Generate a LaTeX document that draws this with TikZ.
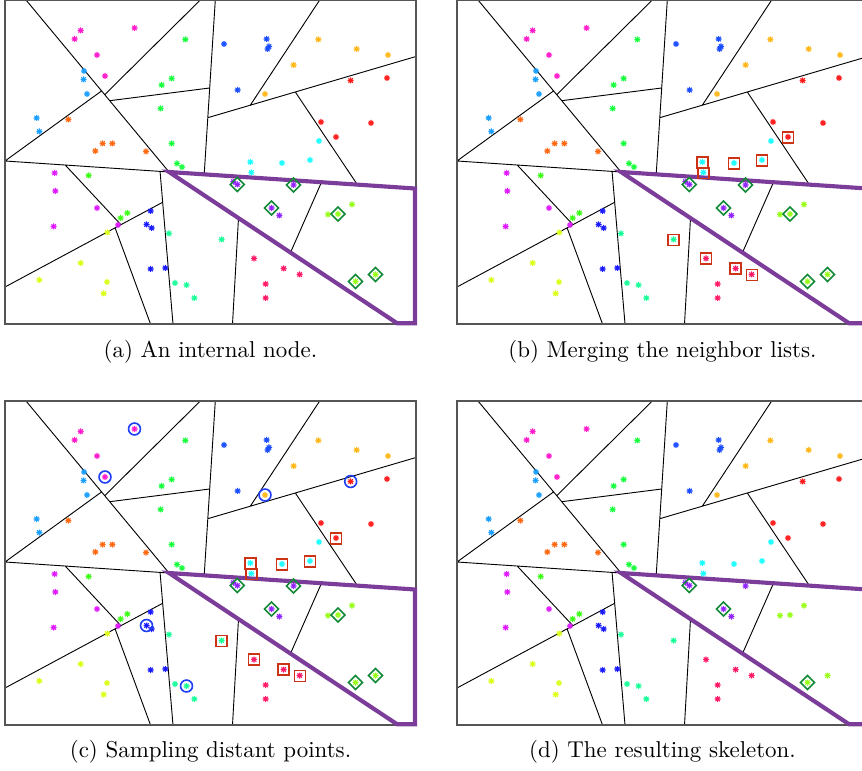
\documentclass[tikz,border=0pt]{standalone}
\usepackage{tikz}
\definecolor{skelpurple}{HTML}{7B3D99}
\definecolor{keepgreen}{HTML}{138A38}
\definecolor{mergered}{HTML}{CC3314}
\definecolor{sampleblue}{HTML}{1F3FF5}
\definecolor{framegray}{HTML}{555555}
\definecolor{cpink}{HTML}{FF1ACC}
\definecolor{csky}{HTML}{1A9FFF}
\definecolor{corange}{HTML}{FF6A14}
\definecolor{cgreena}{HTML}{1AFF40}
\definecolor{cbluea}{HTML}{1A4DFF}
\definecolor{cgold}{HTML}{FFB81A}
\definecolor{cred}{HTML}{FF1A1A}
\definecolor{ccyan}{HTML}{1AFFFF}
\definecolor{cviolet}{HTML}{9326FF}
\definecolor{clime}{HTML}{99FF1A}
\definecolor{ccrimson}{HTML}{FF1A66}
\definecolor{cspring}{HTML}{1AFF99}
\definecolor{cblueb}{HTML}{1A1AFF}
\definecolor{corchid}{HTML}{E01AFF}
\definecolor{cgreenb}{HTML}{40FF1A}
\definecolor{cyellow}{HTML}{DDFF1A}
\tikzset{
  panelframe/.style={draw=framegray,line width=0.5pt},
  cut/.style={draw=black,line width=0.4pt},
  skeleton/.style={draw=skelpurple,line width=1.8pt,line join=miter},
  ast/.pic={\draw[line width=0.45pt] (-3,0)--(3,0) (0,-3)--(0,3)
    (-2.2,-2.2)--(2.2,2.2) (-2.2,2.2)--(2.2,-2.2);},
  keepmark/.pic={\draw[keepgreen,line width=0.7pt] (-7,0)--(0,-7)--(7,0)--(0,7)--cycle;},
  mergemark/.pic={\draw[mergered,line width=0.7pt] (-5.5,-5.5) rectangle (5.5,5.5);},
  samplemark/.pic={\draw[sampleblue,line width=0.7pt] (0,0) circle[radius=2.6pt];}
}
\begin{document}
\begin{tikzpicture}[x=0.436pt,y=-0.436pt,
  caption/.style={font=\normalsize,inner sep=0pt}]
  \useasboundingbox (0,0) rectangle (862,771);
  \clip (0,0) rectangle (862,771);
  \foreach \px/\py in {0/0,452/0,0/401,452/401}{
    \begin{scope}[shift={(5+\px,\py)}]
      \draw[cut] (21,0)--(164,172) (195.3,0)--(99.7,94.7) (0,161)--(96.5,91)
        (104.7,100.7)--(204.7,88) (210.3,0)--(199.2,174.3) (314.7,0)--(245.3,105.2)
        (202.8,117.7)--(411,56.5) (290.3,92)--(352.3,184.6) (0,161)--(164,172)
        (60,164.8)--(115.7,224.5) (0,287)--(157.6,202.3) (110,227.6)--(145.5,324)
        (155,170.8)--(168,324) (233.5,218)--(227.5,324) (316.5,182.2)--(285.5,252.5);
      \draw[panelframe] (0,0) rectangle (411,324);
      \draw[skeleton] (164,172)--(410,188.5)--(410,323.2)--(392,323.2)--cycle;
      \foreach \x/\y/\c in {75.7/30.5/cpink,69.7/39/cpink,129.5/28/cpink,92/55/cpink,100/76/cpink,
        79/71/csky,78.5/79.5/csky,82/94/csky,31.7/118/csky,34.3/131.5/csky,
        63.3/119.5/corange,97.7/143.5/corange,107.3/143.5/corange,90.3/151/corange,141/151.5/corange,
        180.3/39.5/cgreena,166.7/78.5/cgreena,156.7/85/cgreena,155.7/108.5/cgreena,166.7/143.5/cgreena,172/163.5/cgreena,177/167/cgreena,
        219/44/cbluea,261.7/39/cbluea,264/46.5/cbluea,262.5/49/cbluea,232.7/90/cbluea,
        313.3/39.5/cgold,351.7/49/cgold,383/55/cgold,288.7/65/cgold,260/94/cgold,
        345.7/80.5/cred,382/78/cred,316/122/cred,366/123/cred,331/137/cred,
        314/141/ccyan,245.3/162/ccyan,246.3/172.5/ccyan,277/163/ccyan,305/160/ccyan,
        228.3/181.7/cviolet,232.3/184.5/cviolet,288.5/185/cviolet,266.5/208/cviolet,274.3/215.5/cviolet,
        323/214.5/clime,333/214/clime,347/204.5/clime,350.5/281.5/clime,370.5/274.5/clime,
        249/258.5/ccrimson,278.7/268.5/ccrimson,294.7/274.5/ccrimson,260.7/284/ccrimson,260.7/298/ccrimson,
        164/233.5/cspring,216.7/239.5/cspring,170/283/cspring,181.5/285/cspring,189.3/298/cspring,
        145.7/211/cblueb,141.5/224.5/cblueb,146.7/228/cblueb,145.7/269/cblueb,160.3/268/cblueb,
        49.7/173/corchid,50.3/191/corchid,92/208/corchid,48.7/226.5/corchid,113/225/corchid,
        83.7/175.5/cgreenb,122.3/213/cgreenb,115.7/218/cgreenb,
        102.3/232.5/cyellow,75.7/263/cyellow,34.3/280/cyellow,102/282/cyellow,98.7/293.5/cyellow}
        \pic[color=\c] at (\x,\y) {ast};
    \end{scope}
  }
  \foreach \px/\py in {0/0,452/0,0/401}{
    \begin{scope}[shift={(5+\px,\py)}]
      \foreach \x/\y in {232.3/184.5,288.5/185,266.5/208,333/214,350.5/281.5,370.5/274.5}
        \pic at (\x,\y) {keepmark};
    \end{scope}
  }
  \foreach \px/\py in {452/0,0/401}{
    \begin{scope}[shift={(5+\px,\py)}]
      \foreach \x/\y in {245.3/162.5,246.3/173,277/163.5,305/160.5,331/137.5,
          216.5/240,249/258.5,278.5/268.5,295/275}
        \pic at (\x,\y) {mergemark};
    \end{scope}
  }
  \begin{scope}[shift={(5,401)}]
    \foreach \x/\y in {129.5/28,100/76,260/94,345.7/80.5,141.5/224.5,181.5/285}
      \pic at (\x,\y) {samplemark};
  \end{scope}
  \begin{scope}[shift={(457,401)}]
    \foreach \x/\y in {232.3/184.5,266.5/208,350.5/281.5}
      \pic at (\x,\y) {keepmark};
  \end{scope}
  \node[caption] (capa) at (210.5,352) {(a) An internal node.};
  \node[caption] (capb) at (662.5,352) {(b) Merging the neighbor lists.};
  \node[caption] (capc) at (210.5,752) {(c) Sampling distant points.};
  \node[caption] (capd) at (662.5,752) {(d) The resulting skeleton.};
\end{tikzpicture}
\end{document}
